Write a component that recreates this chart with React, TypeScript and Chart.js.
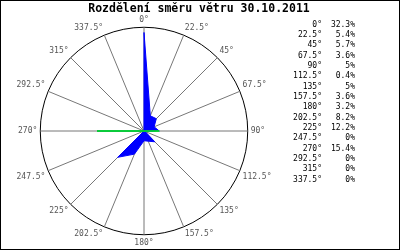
import React, { useEffect, useRef } from "react";
import { Chart, registerables } from "chart.js";

Chart.register(...registerables);

const TITLE = "Rozdělení směru větru 30.10.2011";
const directions = ["0°", "22.5°", "45°", "67.5°", "90°", "112.5°", "135°", "157.5°", "180°", "202.5°", "225°", "247.5°", "270°", "292.5°", "315°", "337.5°"];
const frequencies = [32.3, 5.4, 5.7, 3.6, 5, 0.4, 5, 3.6, 3.2, 8.2, 12.2, 0, 15.4, 0, 0, 0];
const greenEdges = [0, 0, 0, 0, 5, 0, 0, 0, 0, 0, 0, 0, 15.4, 0, 0, 0];
const scaleMax = 34;

const MONO = "'DejaVu Sans Mono', monospace";

const overlayPlugin = {
  id: "overlay",
  afterDraw(chart: any) {
    const ctx = chart.ctx as CanvasRenderingContext2D;
    ctx.save();
    ctx.strokeStyle = "#000";
    ctx.lineWidth = 1;
    ctx.strokeRect(0.5, 0.5, 399, 249);
    ctx.fillStyle = "#000";
    ctx.font = `bold 11.5px ${MONO}`;
    ctx.textAlign = "center";
    ctx.textBaseline = "middle";
    ctx.fillText(TITLE, 199, 9);
    ctx.font = `8px ${MONO}`;
    ctx.textAlign = "right";
    directions.forEach((d, i) => {
      const y = 24.5 + i * 10.35;
      ctx.fillText(d, 322, y);
      ctx.fillText(`${frequencies[i]}%`, 355, y);
    });
    ctx.restore();
  },
};

export default function App() {
  const ref = useRef<HTMLCanvasElement>(null);
  useEffect(() => {
    if (!ref.current) return;
    const chart = new Chart(ref.current, {
      type: "radar",
      data: {
        labels: directions,
        datasets: [
          {
            data: frequencies,
            backgroundColor: "#0000ff",
            borderColor: "#0000ff",
            borderWidth: 1,
            fill: true,
            pointRadius: 0,
            tension: 0,
            order: 1,
          },
          {
            data: greenEdges,
            borderColor: "#00ff00",
            borderWidth: 1,
            fill: false,
            pointRadius: 0,
            tension: 0,
            order: 0,
          },
        ],
      },
      options: {
        responsive: false,
        animation: false,
        devicePixelRatio: 1,
        layout: { padding: { left: 16.5, top: 14, right: 127.5, bottom: -4 } },
        plugins: { legend: { display: false }, title: { display: false }, tooltip: { enabled: false } },
        scales: {
          r: {
            min: 0,
            max: scaleMax,
            ticks: { display: false, stepSize: scaleMax },
            grid: {
              circular: true,
              color: (c: any) => (c.tick && c.tick.value === scaleMax ? "#000" : "rgba(0,0,0,0)"),
              lineWidth: 1,
            },
            angleLines: { display: true, color: "#777", lineWidth: 1 },
            pointLabels: { display: true, color: "#555", padding: 3, font: { family: "DejaVu Sans Mono", size: 8 } },
          },
        },
      },
      plugins: [overlayPlugin],
    });
    return () => chart.destroy();
  }, []);
  return (
    <div style={{ position: "absolute", left: 0, top: 0, width: 400, height: 250, background: "#fff" }}>
      <canvas ref={ref} width={400} height={250} style={{ display: "block" }} />
    </div>
  );
}
